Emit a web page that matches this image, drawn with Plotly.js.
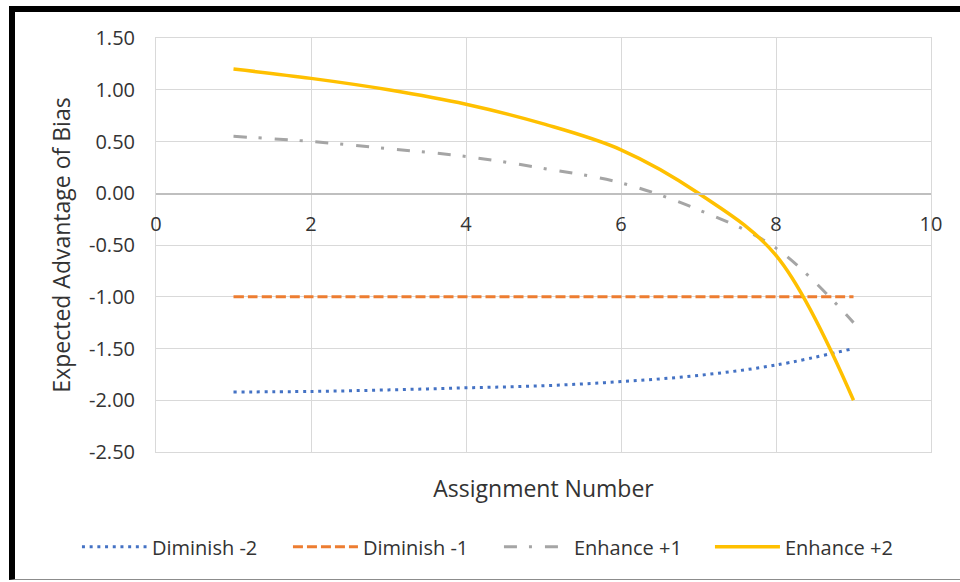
<!DOCTYPE html>
<html>
<head>
<meta charset="utf-8">
<script src="https://cdn.plot.ly/plotly-3.0.1.min.js"></script>
<style>
  html, body { margin: 0; padding: 0; background: #fff; }
  #wrap { position: relative; width: 960px; height: 582px; overflow: hidden; }
  #chart { width: 960px; height: 582px; }
  #frame { position: absolute; left: 9px; top: 6px; width: 960px; height: 574px;
           border-left: 6px solid #000; border-top: 6px solid #000; border-bottom: 1px solid #8c8c8c;
           pointer-events: none; box-sizing: border-box; }
</style>
</head>
<body>
<div id="wrap">
  <div id="chart"></div>
  <div id="frame"></div>
</div>
<script>
// Data
var assignment = [1, 2, 3, 4, 5, 6, 7, 8, 9];
var diminish2 = [-1.92, -1.915, -1.90, -1.88, -1.86, -1.82, -1.76, -1.66, -1.50];
var diminish1 = [-1.00, -1.00, -1.00, -1.00, -1.00, -1.00, -1.00, -1.00, -1.00];
var enhance1  = [0.55, 0.50, 0.43, 0.355, 0.24, 0.10, -0.16, -0.53, -1.25];
var enhance2  = [1.20, 1.11, 1.00, 0.86, 0.67, 0.42, 0.00, -0.60, -2.00];
var seriesNames = ['Diminish -2', 'Diminish -1', 'Enhance +1', 'Enhance +2'];

// Axis ticks
var xTickVals = [0, 2, 4, 6, 8, 10];
var xTickText = ['0', '2', '4', '6', '8', '10'];
var yTickVals = [1.5, 1.0, 0.5, 0.0, -0.5, -1.0, -1.5, -2.0, -2.5];
var yTickText = ['1.50', '1.00', '0.50', '0.00', '-0.50', '-1.00', '-1.50', '-2.00', '-2.50'];

var font = 'Open Sans, Noto Sans, sans-serif';
var txt = '#333333';

var traces = [
  { x: assignment, y: diminish2, name: seriesNames[0], type: 'scatter', mode: 'lines',
    line: { color: '#4472C4', width: 3, dash: '3px,4.7px', shape: 'spline' } },
  { x: assignment, y: diminish1, name: seriesNames[1], type: 'scatter', mode: 'lines',
    line: { color: '#ED7D31', width: 3, dash: '10px,4px', shape: 'spline' } },
  { x: assignment, y: enhance1, name: seriesNames[2], type: 'scatter', mode: 'lines',
    line: { color: '#A5A5A5', width: 3, dash: '13px,12px,3px,13px', shape: 'spline' } },
  { x: assignment, y: enhance2, name: seriesNames[3], type: 'scatter', mode: 'lines',
    line: { color: '#FFC000', width: 3.5, shape: 'spline' } },
  // empty helper trace so the bottom axis (carrying the axis title) is drawn
  { x: [], y: [], xaxis: 'x2', yaxis: 'y', type: 'scatter', mode: 'lines',
    showlegend: false, hoverinfo: 'skip' }
];

var layout = {
  width: 960, height: 582,
  margin: { l: 156, r: 29, t: 38, b: 130 },
  paper_bgcolor: '#ffffff', plot_bgcolor: '#ffffff',
  font: { family: font, size: 20, color: txt },
  showlegend: true,
  legend: {
    orientation: 'h', xref: 'paper', x: -0.102, xanchor: 'left',
    y: -0.229, yanchor: 'middle',
    font: { family: font, size: 20, color: txt },
    itemwidth: 65, entrywidth: 131, traceorder: 'normal', bgcolor: 'rgba(0,0,0,0)'
  },
  xaxis: {
    range: [0, 10], tickmode: 'array', tickvals: xTickVals, ticktext: xTickText,
    anchor: 'free', position: 0.625,
    showgrid: true, gridcolor: '#d9d9d9', gridwidth: 1,
    showline: true, linecolor: '#bfbfbf', linewidth: 1.5,
    zeroline: false,
    ticks: 'outside', ticklen: 12, tickcolor: 'rgba(0,0,0,0)',
    tickfont: { family: font, size: 20, color: txt },
    fixedrange: true
  },
  xaxis2: {
    range: [0, 10], overlaying: 'x', anchor: 'y', side: 'bottom',
    showticklabels: false, showgrid: false, zeroline: false,
    showline: true, mirror: true, linecolor: '#d9d9d9', linewidth: 1,
    ticks: '',
    title: { text: 'Assignment Number', font: { family: font, size: 23, color: txt }, standoff: 28 },
    fixedrange: true
  },
  yaxis: {
    range: [-2.5, 1.5], tickmode: 'array', tickvals: yTickVals, ticktext: yTickText,
    showgrid: true, gridcolor: '#d9d9d9', gridwidth: 1,
    showline: true, mirror: true, linecolor: '#d9d9d9', linewidth: 1,
    zeroline: false,
    ticks: 'outside', ticklen: 16, tickcolor: 'rgba(0,0,0,0)',
    tickfont: { family: font, size: 20, color: txt },
    title: { text: 'Expected Advantage of Bias', font: { family: font, size: 23, color: txt }, standoff: 11 },
    fixedrange: true
  }
};

Plotly.newPlot('chart', traces, layout, { displayModeBar: false, staticPlot: true });
</script>
</body>
</html>
